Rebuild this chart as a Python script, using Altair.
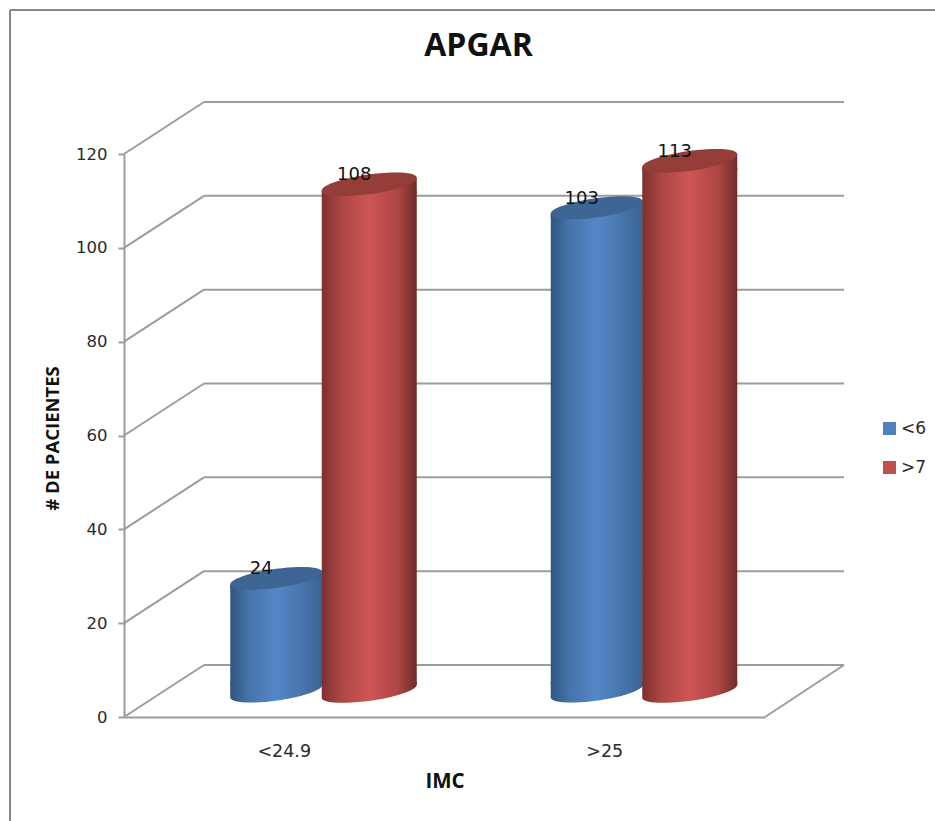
import altair as alt
import pandas as pd

categories = ["<24.9", ">25"]
series_names = ["<6", ">7"]
low_apgar = [24, 103]
high_apgar = [108, 113]
tick_values = [0, 20, 40, 60, 80, 100, 120]

rows = []
for i, cat in enumerate(categories):
    rows.append({"imc": cat, "apgar": series_names[0], "pacientes": low_apgar[i], "zero": 0})
    rows.append({"imc": cat, "apgar": series_names[1], "pacientes": high_apgar[i], "zero": 0})
bars = pd.DataFrame(rows)
ticks = pd.DataFrame({"tick": tick_values})

GRID = "#9c9c9c"
FRAME = "#868686"
AXIS_FONT = "DejaVu Sans"
BOLD_FONT = "Open Sans"
TEXT = "#2a2a2a"
DEPTH_X = 80
DEPTH_Y = -52
CYL_Y = -26
# ends of the tilted cylinder ellipse, in symbol units
END_X = 0.99
END_Y = 0.139
LAP = 0.06
ARC = "A1,0.2,-8,1,1"
ELLIPSE = f"M{-END_X},{END_Y}{ARC},{END_X},{-END_Y}{ARC},{-END_X},{END_Y}Z"
# wedge that joins the straight shaft to the tilted top ellipse, lapping over the shaft
TOP_WEDGE = f"M{-END_X},{END_Y}L{END_X},{-END_Y}L{END_X},{END_Y + LAP}L{-END_X},{END_Y + LAP}Z"
# rounded foot, with a wedge on its left joining the straight shaft
FOOT = ELLIPSE + (
    f"M{-END_X},{END_Y}L{-END_X},{-END_Y - LAP}L{END_X},{-END_Y - LAP}L{END_X},{-END_Y}Z"
)


def body_gradient(edge_l, mid, edge_r):
    return {
        "gradient": "linear", "x1": 0, "x2": 1, "y1": 0, "y2": 0,
        "stops": [
            {"offset": 0, "color": edge_l},
            {"offset": 0.2, "color": mid[1]},
            {"offset": 0.5, "color": mid[0]},
            {"offset": 0.8, "color": mid[1]},
            {"offset": 1, "color": edge_r},
        ],
    }


blue_body = body_gradient("#2f5580", ("#5587c8", "#4673a9"), "#3a6391")
red_body = body_gradient("#7c302e", ("#cd5654", "#ad4644"), "#702c2a")
blue_top = "#3e6593"
red_top = "#943d39"

y_scale = alt.Scale(domain=[0, 120])
y_axis = alt.Axis(
    title="# DE PACIENTES", values=tick_values, grid=False,
    domainColor=GRID, domainWidth=2, tickColor=GRID, tickWidth=2, tickSize=6,
    labelFont=AXIS_FONT, labelFontSize=16.5, labelColor=TEXT, labelPadding=11,
    titleFont=BOLD_FONT, titleFontSize=18.5, titleFontWeight="bold", titleColor="#111111",
    titleX=-62, titleY=284,
)
x_enc = alt.X(
    "imc:N",
    sort=categories,
    scale=alt.Scale(paddingInner=0, paddingOuter=0),
    axis=alt.Axis(
        title="IMC", labelAngle=0, ticks=False, domainColor=GRID, domainWidth=2,
        labelFont=AXIS_FONT, labelFontSize=17.5, labelColor=TEXT, labelPadding=25,
        titleFont=BOLD_FONT, titleFontSize=20.5, titleFontWeight="bold", titleColor="#111111",
        titlePadding=12,
    ),
)
y_enc = alt.Y("pacientes:Q", scale=y_scale, axis=y_axis)
y_tick = alt.Y("tick:Q", scale=y_scale, axis=y_axis)
y_zero = alt.Y("zero:Q", scale=y_scale, axis=y_axis)

# frame around the whole chart
frame_left = alt.Chart(ticks.head(1)).mark_rule(color=FRAME, strokeWidth=2).encode(
    x=alt.value(-114), y=alt.value(-144), y2=alt.value(670))
frame_top = alt.Chart(ticks.head(1)).mark_rule(color=FRAME, strokeWidth=2).encode(
    x=alt.value(-114), x2=alt.value(815), y=alt.value(-144))

# side wall, back wall and floor edge of the 3D box
side = alt.Chart(ticks).mark_rule(color=GRID, strokeWidth=2, y2Offset=DEPTH_Y).encode(
    x=alt.value(0), x2=alt.value(DEPTH_X), y=y_tick, y2="tick:Q")
back = alt.Chart(ticks).mark_rule(color=GRID, strokeWidth=2, yOffset=DEPTH_Y, y2Offset=DEPTH_Y).encode(
    x=alt.value(DEPTH_X), x2=alt.value(720), y=y_tick)
floor_edge = alt.Chart(ticks).transform_filter("datum.tick == 0").mark_rule(
    color=GRID, strokeWidth=2, y2Offset=DEPTH_Y).encode(
    x=alt.value(641), x2=alt.value(720), y=y_tick, y2="tick:Q")

base = alt.Chart(bars)

BLUE_SHIFT = -8
RED_SHIFT = 85

# a thin bar hidden inside the front cylinder carries the colour legend
legend_carrier = base.mark_bar(
    width=1, xOffset=RED_SHIFT, yOffset=CYL_Y + 10, y2Offset=CYL_Y - 8,
).encode(
    x=x_enc, y=y_enc, y2="zero:Q",
    color=alt.Color(
        "apgar:N", sort=series_names,
        scale=alt.Scale(domain=series_names, range=["#4f81bd", "#c0504d"]),
        legend=alt.Legend(
            title=None, orient="none", legendX=757, legendY=266,
            symbolType="square", symbolSize=170, symbolStrokeWidth=0,
            labelFont=AXIS_FONT, labelFontSize=17, labelColor=TEXT,
            rowPadding=21, labelOffset=3,
        ),
    ),
)


def cylinder(name, shift, diameter, body, top):
    part = base.transform_filter(alt.datum.apgar == name)
    size = diameter ** 2
    half_tilt = END_Y * diameter / 2
    symbol = dict(size=size, filled=True, opacity=1, strokeWidth=0, xOffset=shift, yOffset=CYL_Y)
    foot = part.mark_point(shape=FOOT, color=body, **symbol).encode(x=x_enc, y=y_zero)
    shaft = part.mark_bar(
        color=body, width=diameter - 1, xOffset=shift,
        yOffset=CYL_Y + half_tilt, y2Offset=CYL_Y - half_tilt,
    ).encode(x=x_enc, y=y_enc, y2="zero:Q")
    wedge = part.mark_point(shape=TOP_WEDGE, color=body, **symbol).encode(x=x_enc, y=y_enc)
    cap = part.mark_point(shape=ELLIPSE, color=top, **symbol).encode(x=x_enc, y=y_enc)
    return [foot, shaft, wedge, cap]


def value_labels(name, shift):
    return base.transform_filter(alt.datum.apgar == name).mark_text(
        font=AXIS_FONT, fontSize=18, color="#111111", xOffset=shift - 15, yOffset=CYL_Y - 9,
    ).encode(x=x_enc, y=y_enc, text="pacientes:Q")


chart = alt.layer(
    frame_left, frame_top, side, back, floor_edge, legend_carrier,
    *cylinder(series_names[0], BLUE_SHIFT, 93, blue_body, blue_top),
    *cylinder(series_names[1], RED_SHIFT, 96, red_body, red_top),
    value_labels(series_names[0], BLUE_SHIFT),
    value_labels(series_names[1], RED_SHIFT),
).properties(
    width=641,
    height=563,
    padding={"left": 124, "top": 154, "right": 170, "bottom": 104},
    autosize=alt.AutoSizeParams(type="none"),
    background="white",
    title=alt.TitleParams(
        "APGAR", font=BOLD_FONT, fontSize=32, fontWeight="bold", color="#111111",
        anchor="middle", frame="group", dx=34, offset=-54,
    ),
).configure_view(stroke=None)

chart.save("out.html", embed_options={"renderer": "svg", "actions": False})
